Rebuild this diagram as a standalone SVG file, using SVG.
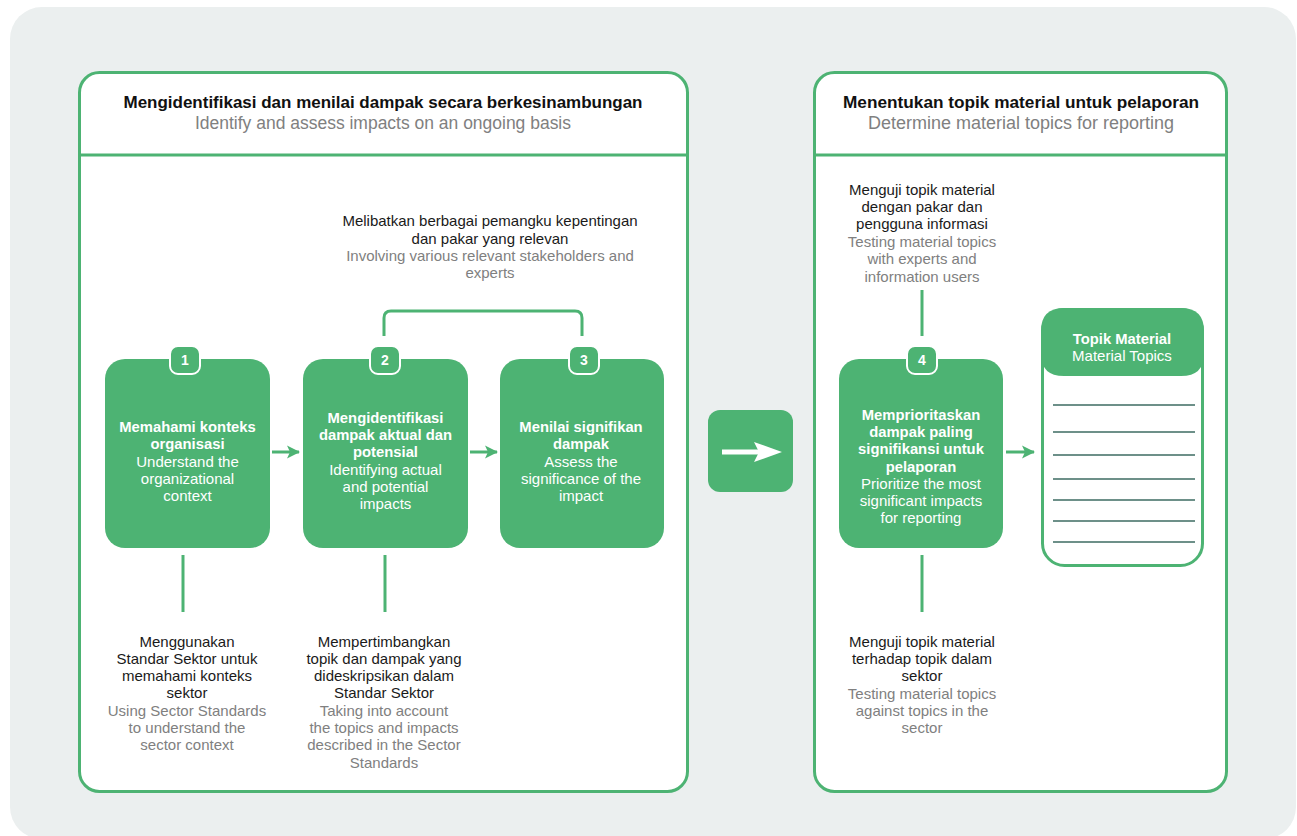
<svg xmlns="http://www.w3.org/2000/svg" width="1297" height="836" viewBox="0 0 1297 836">
<defs>
<style>
.bg{fill:#ebefef}
.panel{fill:#fff;stroke:#4db373;stroke-width:3}
.div{stroke:#4db373;stroke-width:3}
.box{fill:#4db373}
.badge{fill:#4db373;stroke:#fff;stroke-width:2}
.num{font-family:"Liberation Sans",Arial,sans-serif;font-weight:bold;font-size:14px;fill:#fff;text-anchor:middle}
.t{font-family:"Liberation Sans",Arial,sans-serif;font-size:15px;text-anchor:middle}
.b{font-weight:bold;font-size:14.8px}
.w{fill:#fff}
.k{fill:#1a1a1a}
.g{fill:#808080}
.title{font-family:"Liberation Sans",Arial,sans-serif;font-size:17px;font-weight:bold;fill:#111;text-anchor:middle}
.sub{font-family:"Liberation Sans",Arial,sans-serif;font-size:17.5px;fill:#808080;text-anchor:middle}
.conn{stroke:#4db373;stroke-width:3;fill:none}
.rule{stroke:#3d6b62;stroke-width:1.5}
</style>
<marker id="ah" markerWidth="14" markerHeight="14" refX="12" refY="7" orient="auto" markerUnits="userSpaceOnUse">
<path d="M0,0.5 L13,7 L0,13.5 L3,7 Z" fill="#4db373"/>
</marker>
</defs>
<rect class="bg" x="10" y="7" width="1286" height="832" rx="32"/>

<g id="panel-left">
<rect class="panel" x="79.5" y="72.5" width="608" height="719" rx="20"/>
<line class="div" x1="79.5" y1="155" x2="687.5" y2="155"/>
<text class="title" x="383" y="108" textLength="519" lengthAdjust="spacingAndGlyphs">Mengidentifikasi dan menilai dampak secara berkesinambungan</text>
<text class="sub" x="383" y="129" textLength="376" lengthAdjust="spacingAndGlyphs">Identify and assess impacts on an ongoing basis</text>
</g>

<g id="panel-right">
<rect class="panel" x="814.5" y="72.5" width="412" height="719" rx="20"/>
<line class="div" x1="814.5" y1="155" x2="1226.5" y2="155"/>
<text class="title" x="1021" y="108" textLength="356" lengthAdjust="spacingAndGlyphs">Menentukan topik material untuk pelaporan</text>
<text class="sub" x="1021" y="129" textLength="306" lengthAdjust="spacingAndGlyphs">Determine material topics for reporting</text>
</g>

<g id="connectors">
<line class="conn" x1="272" y1="452" x2="299" y2="452" marker-end="url(#ah)"/>
<line class="conn" x1="470" y1="452" x2="497" y2="452" marker-end="url(#ah)"/>
<line class="conn" x1="1006" y1="452" x2="1034" y2="452" marker-end="url(#ah)"/>
<path class="conn" d="M384,336 V318 Q384,311 391,311 H575 Q582,311 582,318 V336"/>
<line class="conn" x1="183" y1="555" x2="183" y2="612"/>
<line class="conn" x1="385" y1="555" x2="385" y2="612"/>
<line class="conn" x1="922" y1="555" x2="922" y2="612"/>
<line class="conn" x1="922" y1="290" x2="922" y2="336"/>
</g>

<g id="note-top">
<text class="t k" x="490" y="226">Melibatkan berbagai pemangku kepentingan</text>
<text class="t k" x="490" y="244">dan pakar yang relevan</text>
<text class="t g" x="490" y="261">Involving various relevant stakeholders and</text>
<text class="t g" x="490" y="278">experts</text>
</g>

<g id="node1">
<rect class="box" x="105" y="359" width="165" height="189" rx="20"/>
<rect class="badge" x="170" y="346" width="30" height="28" rx="8"/>
<text class="num" x="185" y="365">1</text>
<text class="t b w" x="187.5" y="432">Memahami konteks</text>
<text class="t b w" x="187.5" y="449">organisasi</text>
<text class="t w" x="187.5" y="467">Understand the</text>
<text class="t w" x="187.5" y="484">organizational</text>
<text class="t w" x="187.5" y="501">context</text>
</g>

<g id="node2">
<rect class="box" x="303" y="359" width="165" height="189" rx="20"/>
<rect class="badge" x="370" y="346" width="30" height="28" rx="8"/>
<text class="num" x="385" y="365">2</text>
<text class="t b w" x="385.5" y="423">Mengidentifikasi</text>
<text class="t b w" x="385.5" y="440">dampak aktual dan</text>
<text class="t b w" x="385.5" y="457">potensial</text>
<text class="t w" x="385.5" y="475">Identifying actual</text>
<text class="t w" x="385.5" y="492">and potential</text>
<text class="t w" x="385.5" y="509">impacts</text>
</g>

<g id="node3">
<rect class="box" x="500" y="359" width="164" height="189" rx="20"/>
<rect class="badge" x="569" y="346" width="30" height="28" rx="8"/>
<text class="num" x="584" y="365">3</text>
<text class="t b w" x="581" y="432">Menilai signifikan</text>
<text class="t b w" x="581" y="449">dampak</text>
<text class="t w" x="581" y="467">Assess the</text>
<text class="t w" x="581" y="484">significance of the</text>
<text class="t w" x="581" y="501">impact</text>
</g>

<g id="transition-arrow">
<rect class="box" x="708" y="410" width="85" height="82" rx="12"/>
<rect x="722" y="449.5" width="37" height="5" fill="#fff"/>
<path d="M754,442 L782,452 L754,462 L759,452 Z" fill="#fff"/>
</g>

<g id="node4">
<rect class="box" x="839" y="359" width="164" height="189" rx="20"/>
<rect class="badge" x="907" y="346" width="30" height="28" rx="8"/>
<text class="num" x="922" y="365">4</text>
<text class="t b w" x="921" y="420">Memprioritaskan</text>
<text class="t b w" x="921" y="437">dampak paling</text>
<text class="t b w" x="921" y="454">signifikansi untuk</text>
<text class="t b w" x="921" y="472">pelaporan</text>
<text class="t w" x="921" y="489">Prioritize the most</text>
<text class="t w" x="921" y="506">significant impacts</text>
<text class="t w" x="921" y="523">for reporting</text>
</g>

<g id="material-topics">
<rect x="1042.5" y="309.5" width="160" height="256" rx="22" fill="#fff" stroke="#4db373" stroke-width="3"/>
<path class="box" d="M1041,331 Q1041,308 1064,308 H1181 Q1204,308 1204,331 V354 Q1204,376 1181,376 H1064 Q1041,376 1041,354 Z"/>
<text class="t b w" x="1122" y="344">Topik Material</text>
<text class="t w" x="1122" y="361">Material Topics</text>
<line class="rule" x1="1053" y1="405" x2="1195" y2="405"/>
<line class="rule" x1="1053" y1="432" x2="1195" y2="432"/>
<line class="rule" x1="1053" y1="455" x2="1195" y2="455"/>
<line class="rule" x1="1053" y1="479" x2="1195" y2="479"/>
<line class="rule" x1="1053" y1="500" x2="1195" y2="500"/>
<line class="rule" x1="1053" y1="521" x2="1195" y2="521"/>
<line class="rule" x1="1053" y1="542" x2="1195" y2="542"/>
</g>

<g id="note-1">
<text class="t k" x="187" y="647">Menggunakan</text>
<text class="t k" x="187" y="664">Standar Sektor untuk</text>
<text class="t k" x="187" y="681">memahami konteks</text>
<text class="t k" x="187" y="698">sektor</text>
<text class="t g" x="187" y="716">Using Sector Standards</text>
<text class="t g" x="187" y="733">to understand the</text>
<text class="t g" x="187" y="750">sector context</text>
</g>

<g id="note-2">
<text class="t k" x="384" y="647">Mempertimbangkan</text>
<text class="t k" x="384" y="664">topik dan dampak yang</text>
<text class="t k" x="384" y="681">dideskripsikan dalam</text>
<text class="t k" x="384" y="698">Standar Sektor</text>
<text class="t g" x="384" y="716">Taking into account</text>
<text class="t g" x="384" y="733">the topics and impacts</text>
<text class="t g" x="384" y="750">described in the Sector</text>
<text class="t g" x="384" y="768">Standards</text>
</g>

<g id="note-4-top">
<text class="t k" x="922" y="195">Menguji topik material</text>
<text class="t k" x="922" y="212">dengan pakar dan</text>
<text class="t k" x="922" y="229">pengguna informasi</text>
<text class="t g" x="922" y="247">Testing material topics</text>
<text class="t g" x="922" y="264">with experts and</text>
<text class="t g" x="922" y="282">information users</text>
</g>

<g id="note-4-bottom">
<text class="t k" x="922" y="647">Menguji topik material</text>
<text class="t k" x="922" y="664">terhadap topik dalam</text>
<text class="t k" x="922" y="681">sektor</text>
<text class="t g" x="922" y="699">Testing material topics</text>
<text class="t g" x="922" y="716">against topics in the</text>
<text class="t g" x="922" y="733">sector</text>
</g>
</svg>
